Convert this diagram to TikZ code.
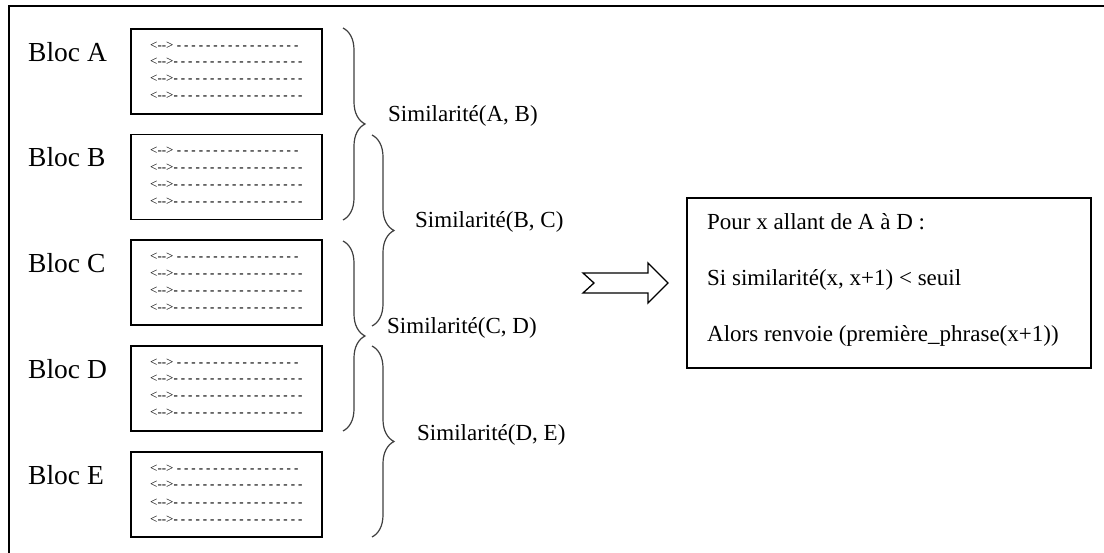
\documentclass[tikz,border=0pt]{standalone}
\usepackage{fontspec}
\setmainfont{Liberation Serif}
\usetikzlibrary{decorations.pathreplacing}
\newcommand\mydashes[1]{{\bfseries\foreach\i in {1,...,#1}{-{}\kern3pt}}}
\newcommand\lrarr{<-{}->}
\tikzset{
  blockbox/.style={draw, line width=1.5pt, minimum width=191pt, minimum height=85pt, inner sep=0pt},
  bloclabel/.style={anchor=base west, inner sep=0pt, font=\fontsize{27.5}{32}\selectfont},
  dashtext/.style={anchor=base west, inner sep=0pt, font=\fontsize{13}{15}\selectfont},
  simlabel/.style={anchor=base west, inner sep=0pt, font=\fontsize{23}{27}\selectfont},
  algotext/.style={anchor=base west, inner sep=0pt, font=\fontsize{23}{27}\selectfont},
  algobox/.style={draw, line width=1.5pt, minimum width=404pt, minimum height=170pt, inner sep=0pt},
  bracestyle/.style={draw=black!75, line width=1.2pt, decorate, decoration={brace, amplitude=22pt}},
  blockarrow/.style={draw, line width=1.3pt, line join=miter},
  frame/.style={draw, line width=2pt}
}
\newcommand\myblock[2]{%
  \node[blockbox] (box#1) at (226.5,{-(#2)-42.5}) {};
  \node[bloclabel] (lbl#1) at (28,{-(#2)-32.5}) {Bloc #1};
  \node[dashtext] (d#1a) at (150,{-(#2)-20.5}) {\lrarr\ \mydashes{17}};
  \node[dashtext] (d#1b) at (150,{-(#2)-37}) {\lrarr\mydashes{18}};
  \node[dashtext] (d#1c) at (150,{-(#2)-54}) {\lrarr\mydashes{18}};
  \node[dashtext] (d#1d) at (150,{-(#2)-71}) {\lrarr\mydashes{18}};
}
\begin{document}
\begin{tikzpicture}[x=1pt, y=1pt]
\useasboundingbox (0,0) rectangle (1104,-553);
\fill[white] (0,0) rectangle (1104,-553);
% outer frame (only top and left edges visible)
\coordinate (fbl) at (9,-553);
\coordinate (ftl) at (9,-6);
\coordinate (ftr) at (1104,-6);
\draw[frame] (fbl) -- (ftl) -- (ftr);
% blocks
\myblock{A}{29}
\myblock{B}{134.5}
\myblock{C}{240.25}
\myblock{D}{346}
\myblock{E}{452}
% braces
\coordinate (b1s) at (343,-28);  \coordinate (b1e) at (343,-220);
\coordinate (b2s) at (372,-135); \coordinate (b2e) at (372,-326);
\coordinate (b3s) at (343,-241); \coordinate (b3e) at (343,-431);
\coordinate (b4s) at (372,-346); \coordinate (b4e) at (372,-537);
\draw[bracestyle] (b1s) -- (b1e);
\draw[bracestyle] (b2s) -- (b2e);
\draw[bracestyle] (b3s) -- (b3e);
\draw[bracestyle] (b4s) -- (b4e);
% similarity labels
\node[simlabel] (s1) at (388,-122) {Similarité(A, B)};
\node[simlabel] (s2) at (415,-228) {Similarité(B, C)};
\node[simlabel] (s3) at (387,-334) {Similarité(C, D)};
\node[simlabel] (s4) at (417,-440) {Similarité(D, E)};
% block arrow
\draw[blockarrow] (583,-273) -- (594,-283) -- (583,-293) -- (648,-293) -- (648,-303)
  -- (668,-283) -- (648,-263) -- (648,-273) -- cycle;
% algorithm box
\node[algobox] (algo) at (889,-283) {};
\node[algotext] (t1) at (707,-230) {Pour x allant de A à D :};
\node[algotext] (t2) at (707,-286) {Si similarité(x, x+1) < seuil};
\node[algotext] (t3) at (707,-342) {Alors renvoie (première\_phrase(x+1))};
\end{tikzpicture}
\end{document}
